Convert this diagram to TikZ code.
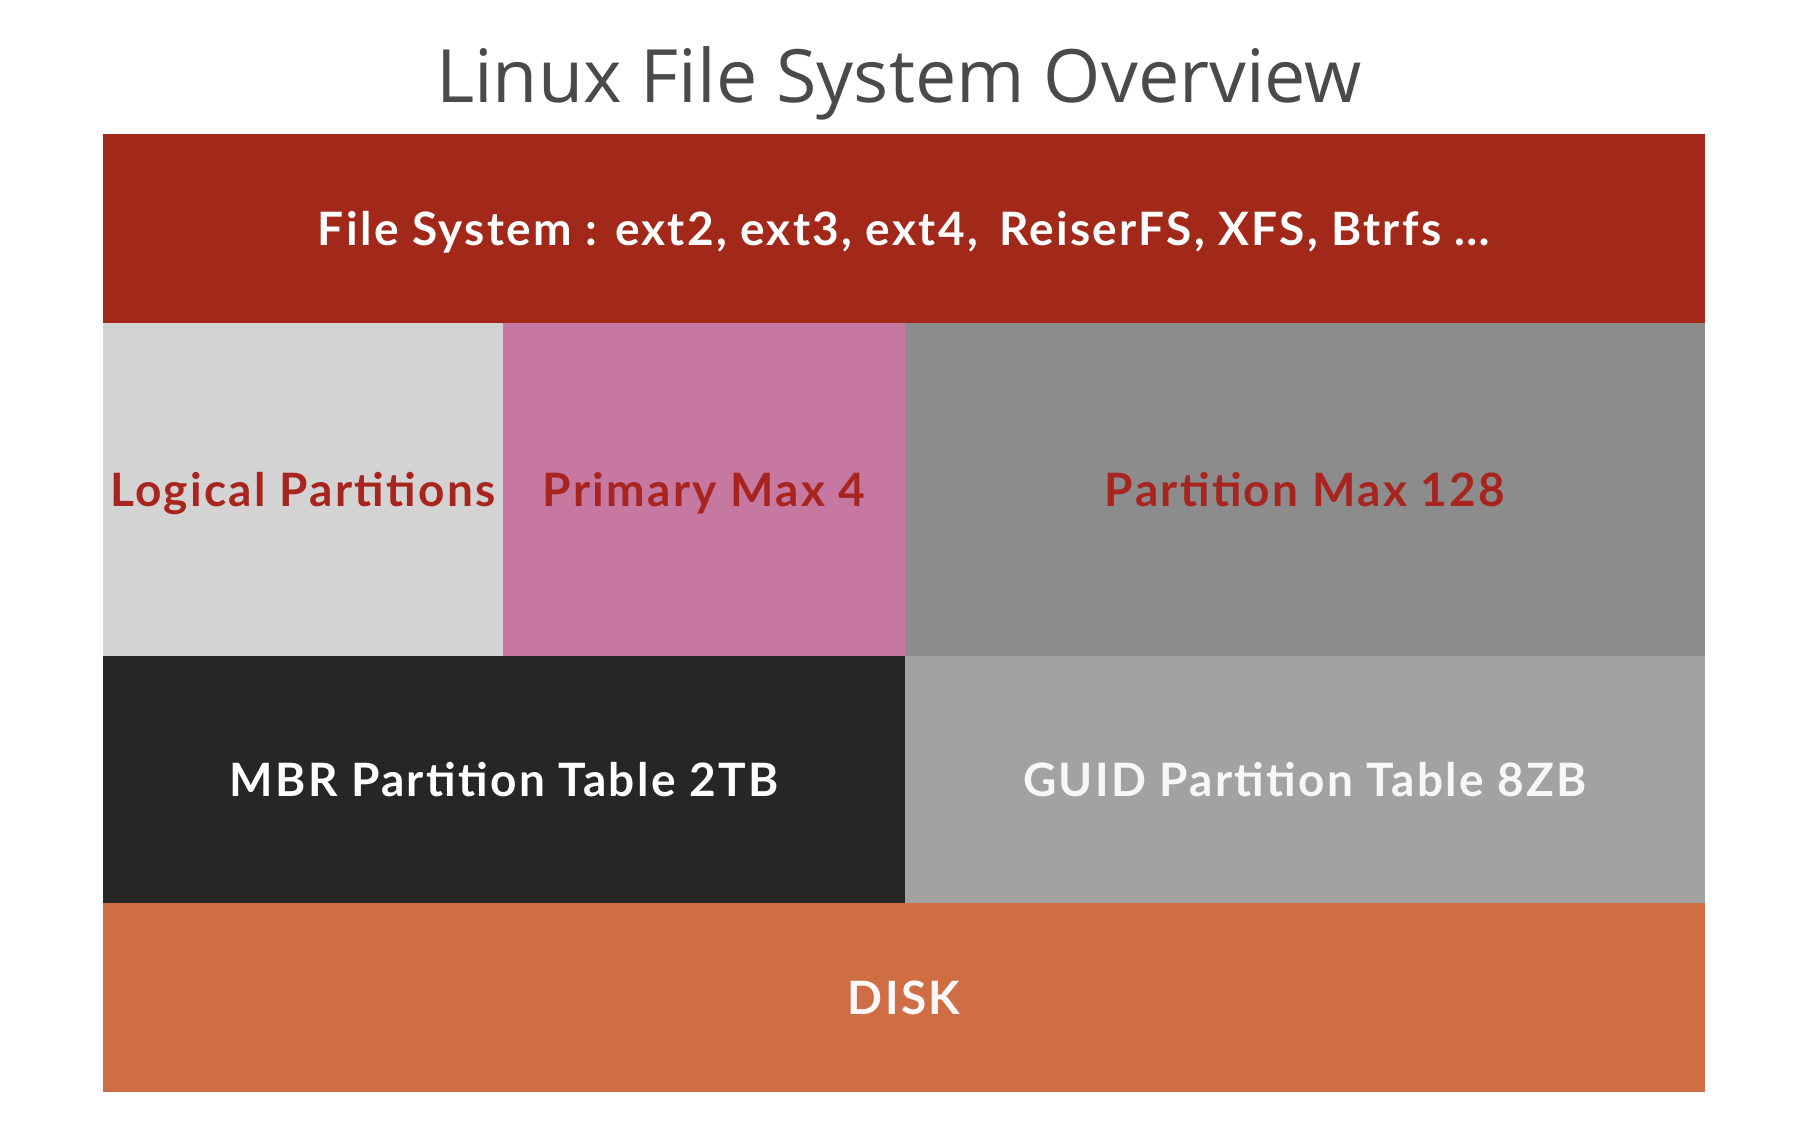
\documentclass[tikz,border=0pt]{standalone}
\usepackage{fontspec}
\usepackage{tikz}
\newfontfamily\titlefont{Open Sans}
\newfontfamily\layerfont{Lato}[LetterSpace=5]
\definecolor{fsred}{HTML}{A22819}
\definecolor{lightgr}{HTML}{D3D3D3}
\definecolor{pinkc}{HTML}{C678A0}
\definecolor{darkgr}{HTML}{8C8C8C}
\definecolor{blackc}{HTML}{262626}
\definecolor{midgr}{HTML}{A2A2A2}
\definecolor{diskc}{HTML}{CF6D45}
\definecolor{redtext}{HTML}{A8251F}
\definecolor{titlec}{HTML}{4A4A4A}

\begin{document}
\begin{tikzpicture}[
		layer/.style={rectangle,inner sep=0pt,outer sep=0pt,anchor=north west,
			text height=16.6pt,text depth=0pt,
			font=\layerfont\bfseries\fontsize{23pt}{26pt}\selectfont},
		part/.style={layer,minimum height=166.5pt,text=redtext},
		ptable/.style={layer,minimum height=123.5pt,text=white}]
	\useasboundingbox (0,0) rectangle (897pt,-561pt);
	\node[text=titlec,font=\titlefont\fontsize{36.8pt}{44pt}\selectfont,anchor=base]
		(title) at (449.5pt,-51.5pt) {Linux File System Overview};
	\node[layer,fill=fsred,minimum width=801pt,minimum height=94.5pt,text=white]
		(fs) at (51.5pt,-67pt) {File System : ext2, ext3, ext4,\, ReiserFS, XFS, Btrfs \dots};
	% partitions
	\node[part,fill=lightgr,minimum width=200pt] (logical) at (fs.south west) {Logical Partitions};
	\node[part,fill=pinkc,minimum width=201pt] (primary) at (logical.north east) {Primary Max 4};
	\node[part,fill=darkgr,minimum width=400pt] (gptpart) at (primary.north east) {Partition Max 128};
	% partition tables
	\node[ptable,fill=blackc,minimum width=401pt] (mbr) at (logical.south west) {MBR Partition Table 2TB};
	\node[ptable,fill=midgr,minimum width=400pt,text=white!97!black] (guid) at (mbr.north east) {GUID Partition Table 8ZB};
	\node[layer,fill=diskc,minimum width=801pt,minimum height=94.5pt,text=white!96!diskc]
		(disk) at (mbr.south west) {DISK};
\end{tikzpicture}
\end{document}
